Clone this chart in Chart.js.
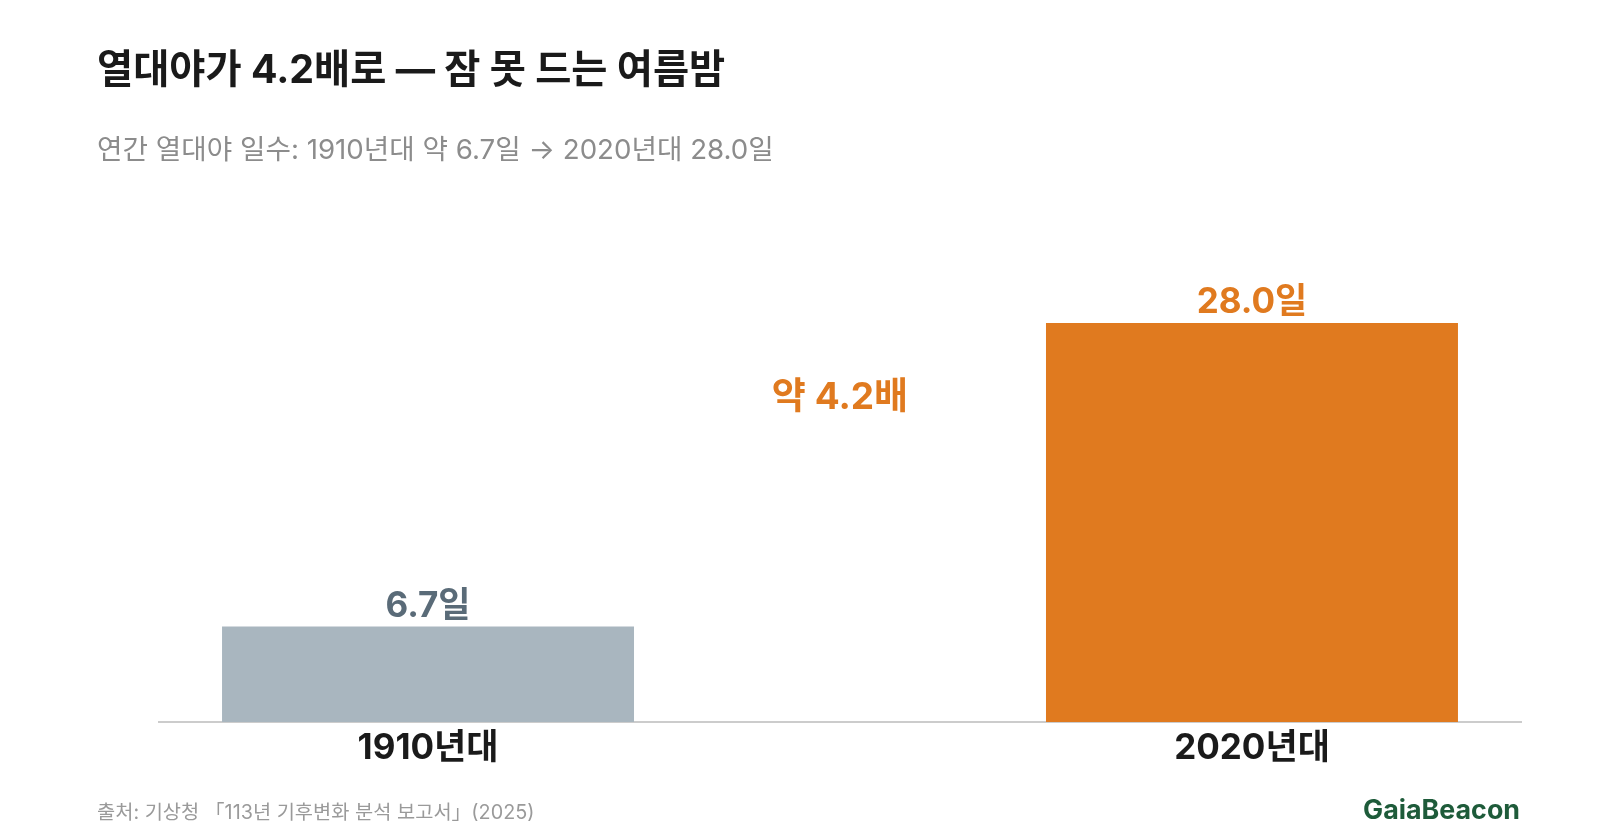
<!DOCTYPE html>
<html lang="ko">
<head>
<meta charset="utf-8">
<script src="https://cdn.jsdelivr.net/npm/chart.js@4/dist/chart.umd.min.js"></script>
<style>
  html, body { margin: 0; padding: 0; background: #fff; }
  #wrap { width: 1600px; height: 840px; position: relative; }
</style>
</head>
<body>
<div id="wrap"><canvas id="myChart"></canvas></div>
<script>
// data
const categories = ['1910년대', '2020년대'];
const nightDays = [6.7, 28.0];
const valueLabels = ['6.7일', '28.0일'];
const ratioLabel = '약 4.2배';

const titleText = '열대야가 4.2배로 — 잠 못 드는 여름밤';
const subtitleText = '연간 열대야 일수: 1910년대 약 6.7일 → 2020년대 28.0일';
const sourceText = '출처: 기상청 「113년 기후변화 분석 보고서」(2025)';
const brandText = 'GaiaBeacon';

const FONT = 'Inter, "Noto Sans CJK KR", sans-serif';
const barColors = ['#a9b6bf', '#e07a1f'];
const labelColors = ['#5a6b78', '#e07a1f'];

const textPlugin = {
  id: 'texts',
  afterDraw(chart) {
    const c = chart.ctx;
    c.save();
    c.textBaseline = 'middle';
    c.textAlign = 'left';
    c.fillStyle = '#1a1a1a';
    c.font = 'bold 39.3px ' + FONT;
    c.fillText(titleText, 97, 71);

    c.fillStyle = '#8c8c8c';
    c.font = '27.7px ' + FONT;
    c.fillText(subtitleText, 97, 151);

    c.fillStyle = '#9a9a9a';
    c.font = '19.8px ' + FONT;
    c.fillText(sourceText, 97, 813);

    c.textAlign = 'right';
    c.fillStyle = '#1e5b3a';
    c.font = 'bold 26.8px ' + FONT;
    c.fillText(brandText, 1520, 811);

    // value labels over the bars
    const meta = chart.getDatasetMeta(0);
    c.textAlign = 'center';
    c.textBaseline = 'alphabetic';
    c.font = 'bold 35px ' + FONT;
    meta.data.forEach((bar, i) => {
      c.fillStyle = labelColors[i];
      c.fillText(valueLabels[i], bar.x, bar.y - 10);
    });

    // ratio between the bars
    const a = meta.data[0], b = meta.data[1];
    c.textBaseline = 'middle';
    c.fillStyle = labelColors[1];
    c.font = 'bold 37px ' + FONT;
    c.fillText(ratioLabel, (a.x + b.x) / 2, b.y + 75);
    c.restore();
  }
};

const ctx = document.getElementById('myChart');

const chart = new Chart(ctx, {
  type: 'bar',
  data: {
    datasets: [{
      data: nightDays.map((v, i) => ({ x: i, y: v })),
      backgroundColor: barColors,
      borderWidth: 0,
      categoryPercentage: 1,
      barPercentage: 0.5
    }]
  },
  options: {
    responsive: true,
    maintainAspectRatio: false,
    animation: false,
    layout: { padding: { left: 159, right: 79, top: 294.5, bottom: 68 } },
    plugins: {
      legend: { display: false },
      tooltip: { enabled: false }
    },
    scales: {
      x: {
        type: 'linear',
        offset: false,
        min: -0.3265,
        max: 1.3265,
        grid: { display: false, drawTicks: false },
        border: { display: true, color: '#cccccc', width: 2 },
        afterBuildTicks: s => { s.ticks = categories.map((_, i) => ({ value: i })); },
        afterFit: s => { s.height = 50; },
        ticks: {
          padding: 5,
          color: '#1a1a1a',
          font: { family: FONT, size: 35, weight: 'bold' },
          callback: v => categories[v]
        }
      },
      y: {
        display: false,
        min: 0,
        max: 30
      }
    }
  },
  plugins: [textPlugin]
});
</script>
</body>
</html>
